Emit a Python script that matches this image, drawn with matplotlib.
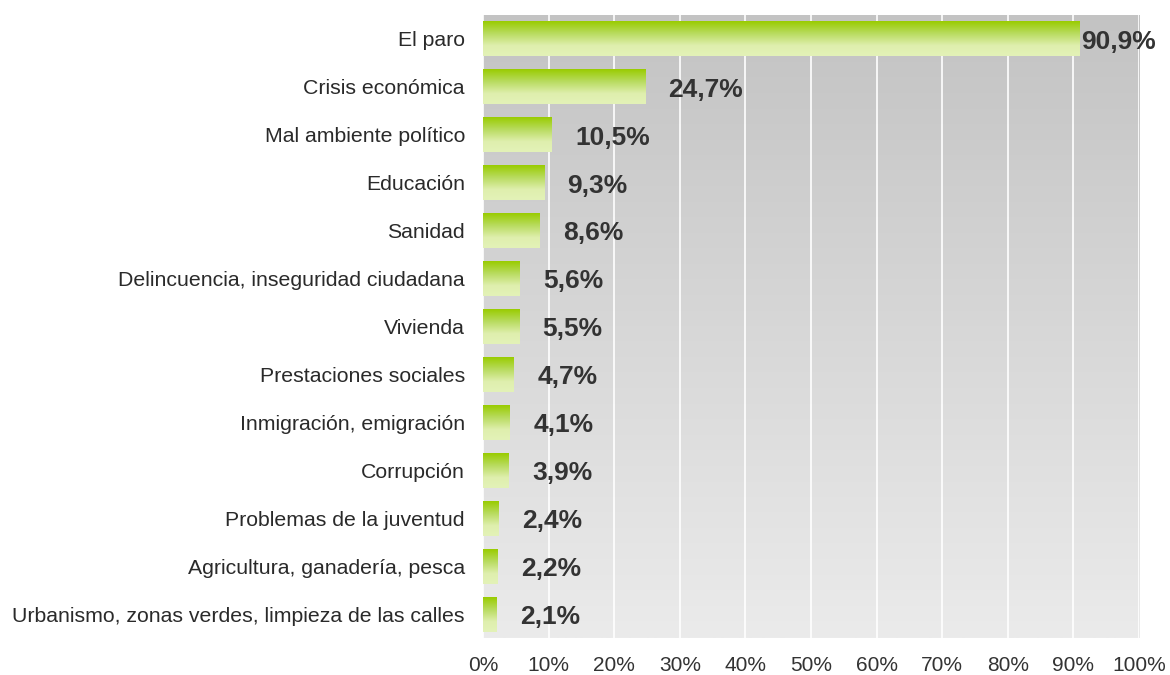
import numpy as np
import matplotlib.pyplot as plt
from matplotlib.colors import LinearSegmentedColormap

plt.rcParams['font.family'] = ['Liberation Sans', 'DejaVu Sans']

categories = ['El paro', 'Crisis económica', 'Mal ambiente político', 'Educación',
              'Sanidad', 'Delincuencia, inseguridad ciudadana', 'Vivienda',
              'Prestaciones sociales', 'Inmigración, emigración', 'Corrupción',
              'Problemas de la juventud', 'Agricultura, ganadería, pesca',
              'Urbanismo, zonas verdes, limpieza de las calles']
values = [90.9, 24.7, 10.5, 9.3, 8.6, 5.6, 5.5, 4.7, 4.1, 3.9, 2.4, 2.2, 2.1]
labels = ['90,9%', '24,7%', '10,5%', '9,3%', '8,6%', '5,6%', '5,5%', '4,7%',
          '4,1%', '3,9%', '2,4%', '2,2%', '2,1%']
ticks = np.arange(0, 101, 10)
tick_labels = [f'{t}%' for t in ticks]

fig = plt.figure(figsize=(11.7, 6.75), dpi=100)
ax = fig.add_axes([0.4128, 0.0548, 0.9735 - 0.4128, 0.9778 - 0.0548])

n = len(categories)
ax.set_xlim(0, 100)
ax.set_ylim(n - 0.5, -0.5)

# background gradient, darker at top
bg = LinearSegmentedColormap.from_list('bg', ['#c3c3c3', '#ebebeb'])
grad = np.linspace(0, 1, 256).reshape(-1, 1)
ax.imshow(grad, cmap=bg, extent=(0, 100, n - 0.5, -0.5), aspect='auto', zorder=0)

for t in ticks:
    ax.axvline(t, color='white', lw=1.2, zorder=1)

green = LinearSegmentedColormap.from_list(
    'gr', [(0, '#99cc00'), (0.35, '#b8db5e'), (0.7, '#dfefae'), (1, '#e3f2b8')])
h = 0.73
y = np.arange(n)
bars = ax.barh(y, values, height=h, color='none', zorder=2)
for b, v in zip(bars, values):
    y0 = b.get_y()
    ax.imshow(grad, cmap=green, extent=(0, v, y0 + h, y0), aspect='auto', zorder=2)

for i, (v, lab) in enumerate(zip(values, labels)):
    off = 1 if i == 0 else 17
    ax.annotate(lab, (v, i), xytext=(off, -2), textcoords='offset points',
                ha='left', va='center', fontsize=19, fontweight='bold', color='#333333', zorder=3)

ax.set_yticks(y)
ax.set_yticklabels(categories, fontsize=15.3, color='#2a2a2a')
ax.set_xticks(ticks)
ax.set_xticklabels(tick_labels, fontsize=15, color='#333333')
ax.tick_params(length=0)
ax.tick_params(axis='y', pad=13)
ax.tick_params(axis='x', pad=13)
for s in ax.spines.values():
    s.set_visible(False)

fig.savefig('out.png', dpi=100)
